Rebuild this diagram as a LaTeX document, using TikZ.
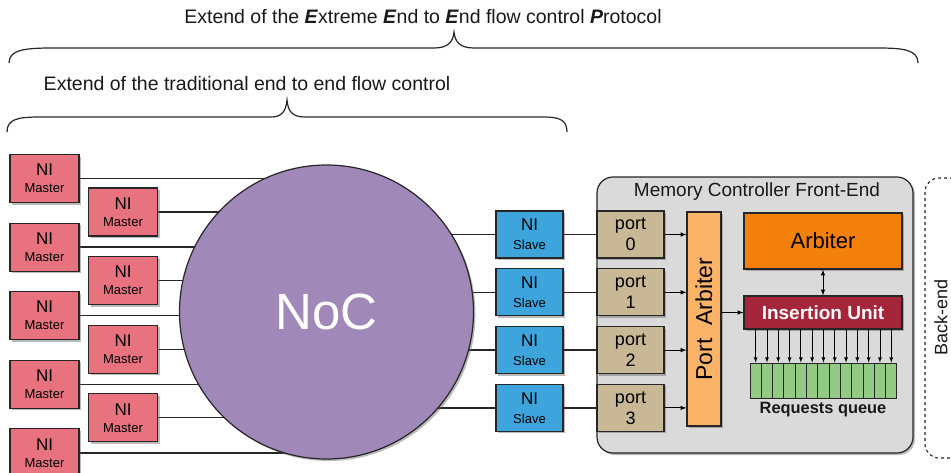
\documentclass[tikz,border=0pt]{standalone}
\usepackage{fontspec}
\setmainfont{Liberation Sans}
\usepackage{tikz}
\usetikzlibrary{shapes,arrows,positioning,calc,shadows,backgrounds}
\definecolor{nimaster}{HTML}{E8737F}
\definecolor{nislave}{HTML}{3DA5DC}
\definecolor{portfill}{HTML}{C8B896}
\definecolor{nocfill}{HTML}{A088B8}
\definecolor{fefill}{HTML}{DADADA}
\definecolor{parbfill}{HTML}{FBB467}
\definecolor{arbfill}{HTML}{F2800A}
\definecolor{insfill}{HTML}{A5253A}
\definecolor{qfill}{HTML}{92C983}
\definecolor{linegray}{HTML}{262626}

\begin{document}
\begin{tikzpicture}[
    x=1pt, y=-1pt,
    node distance=19.5pt,
    shadowed/.style={drop shadow={shadow xshift=2pt, shadow yshift=-2pt, fill=black!60, opacity=.45}},
    box/.style={rectangle, draw=linegray, line width=1.1pt, inner sep=0pt, align=center, shadowed},
    master/.style={box, fill=nimaster, minimum width=69pt, minimum height=48pt, font=\fontsize{13}{17}\selectfont},
    slave/.style={box, fill=nislave, minimum width=67pt, minimum height=47pt, font=\fontsize{13}{19}\selectfont},
    portbox/.style={box, fill=portfill, minimum width=67pt, minimum height=47pt, font=\fontsize{18}{21}\selectfont},
    qcell/.style={rectangle, draw=linegray, line width=0.9pt, fill=qfill, minimum width=11.3pt, minimum height=35pt, inner sep=0pt},
    conn/.style={draw=linegray, line width=1.3pt},
    arrow/.style={draw=black, line width=1pt, -latex},
    brace/.style={draw=linegray, line width=1.2pt},
    caption/.style={font=\fontsize{19.5}{22}\selectfont, text=black!90}
]
\useasboundingbox (0,0) rectangle (951,472);

% scope braces
\node [caption] (eeep) at (423,17) {Extend of the \textbf{\textit{E}}xtreme \textbf{\textit{E}}nd to \textbf{\textit{E}}nd flow control \textbf{\textit{P}}rotocol};
\draw [brace] (9,63) .. controls (9,50) and (24,48) .. (52,48) -- (434,48) .. controls (448,48) and (453,42) .. (454,32)
  .. controls (455,42) and (460,48) .. (474,48) -- (878,48) .. controls (904,48) and (918,50) .. (918,63);
\node [caption] (trad) at (247,84) {Extend of the traditional end to end flow control};
\draw [brace] (7,132) .. controls (7,119) and (18,117) .. (40,117) -- (271,117) .. controls (282,117) and (286,111) .. (287,100)
  .. controls (288,111) and (292,117) .. (305,117) -- (543,117) .. controls (558,117) and (567,119) .. (567,132);

% NI masters
\node [master] (m1) at (44.5,178.5) {{\fontsize{17}{17}\selectfont NI}\\Master};
\node [master, below=of m1] (m3) {{\fontsize{17}{17}\selectfont NI}\\Master};
\node [master, below=of m3] (m5) {{\fontsize{17}{17}\selectfont NI}\\Master};
\node [master, below=of m5] (m7) {{\fontsize{17}{17}\selectfont NI}\\Master};
\node [master, below=of m7] (m9) {{\fontsize{17}{17}\selectfont NI}\\Master};
\node [master] (m2) at (123,212) {{\fontsize{17}{17}\selectfont NI}\\Master};
\node [master, below=of m2] (m4) {{\fontsize{17}{17}\selectfont NI}\\Master};
\node [master, below=of m4] (m6) {{\fontsize{17}{17}\selectfont NI}\\Master};
\node [master, below=of m6] (m8) {{\fontsize{17}{17}\selectfont NI}\\Master};

% network on chip
\node [circle, draw=linegray, line width=1.2pt, fill=nocfill, minimum size=294pt, shadowed,
       font=\fontsize{51}{51}\selectfont, text=white] (noc) at (326.5,312) {NoC};

% front-end
\node [rectangle, draw=linegray, line width=1.2pt, fill=fefill, rounded corners=16pt, shadowed,
       minimum width=316pt, minimum height=276pt] (fe) at (755,315) {};
\node [font=\fontsize{19}{22}\selectfont, text=black!90] (fetitle) at (757,192) {Memory Controller Front-End};

% NI slaves and ports
\node [slave] (s0) at (529.5,234.5) {{\fontsize{17}{17}\selectfont NI}\\Slave};
\node [slave, below=9.7pt of s0] (s1) {{\fontsize{17}{17}\selectfont NI}\\Slave};
\node [slave, below=9.7pt of s1] (s2) {{\fontsize{17}{17}\selectfont NI}\\Slave};
\node [slave, below=9.7pt of s2] (s3) {{\fontsize{17}{17}\selectfont NI}\\Slave};
\node [portbox] (p0) at (630.5,234.5) {port\\0};
\node [portbox, below=9.7pt of p0] (p1) {port\\1};
\node [portbox, below=9.7pt of p1] (p2) {port\\2};
\node [portbox, below=9.7pt of p2] (p3) {port\\3};

\node [box, fill=parbfill, minimum width=34pt, minimum height=214pt, font=\fontsize{23}{23}\selectfont] (parb) at (704,319) {\rotatebox{90}{Port\ \ Arbiter}};
\node [box, fill=arbfill, minimum width=158pt, minimum height=56pt, font=\fontsize{22}{22}\selectfont] (arb) at (823,241) {Arbiter};
\node [box, fill=insfill, minimum width=158pt, minimum height=33pt, font=\bfseries\fontsize{19}{19}\selectfont, text=white] (ins) at (823,312.5) {Insertion Unit};

% requests queue
\foreach \i in {0,...,12}
  \node [qcell] (q\i) at ({755.65+11.3*\i},380.5) {};
\node [font=\bfseries\fontsize{16.4}{18}\selectfont, text=black!90] (qlabel) at (823,410) {Requests queue};

% back-end
\node [rectangle, draw=linegray, line width=1.1pt, dashed, rounded corners=14pt,
       minimum width=60pt, minimum height=280pt] (be) at (955,318) {};
\node [font=\fontsize{18}{20}\selectfont, text=black!90, rotate=90, inner sep=1pt] (betext) at (941,317) {Back-end};

% links behind the NoC
\begin{scope}[on background layer]
  \foreach \m in {m1,m2,m3,m4,m5,m6,m7,m8,m9}
    \draw [conn] (\m.east) -- (\m.east -| noc.center);
  \foreach \s in {s0,s1,s2,s3}
    \draw [conn] (\s.west -| noc.center) -- (\s.west);
\end{scope}

\foreach \n in {0,...,3} {
  \draw [conn] (s\n.east) -- (p\n.west);
  \draw [arrow] (p\n.east) -- (p\n.east -| parb.west);
}
\draw [arrow] (parb.east |- ins.west) -- (ins.west);
\draw [draw=black, line width=1pt, latex-latex] (arb.south) -- (ins.north);
\foreach \i in {0,...,12}
  \draw [draw=black, line width=0.8pt, -latex] (ins.south -| q\i.north) -- (q\i.north);
\end{tikzpicture}
\end{document}
